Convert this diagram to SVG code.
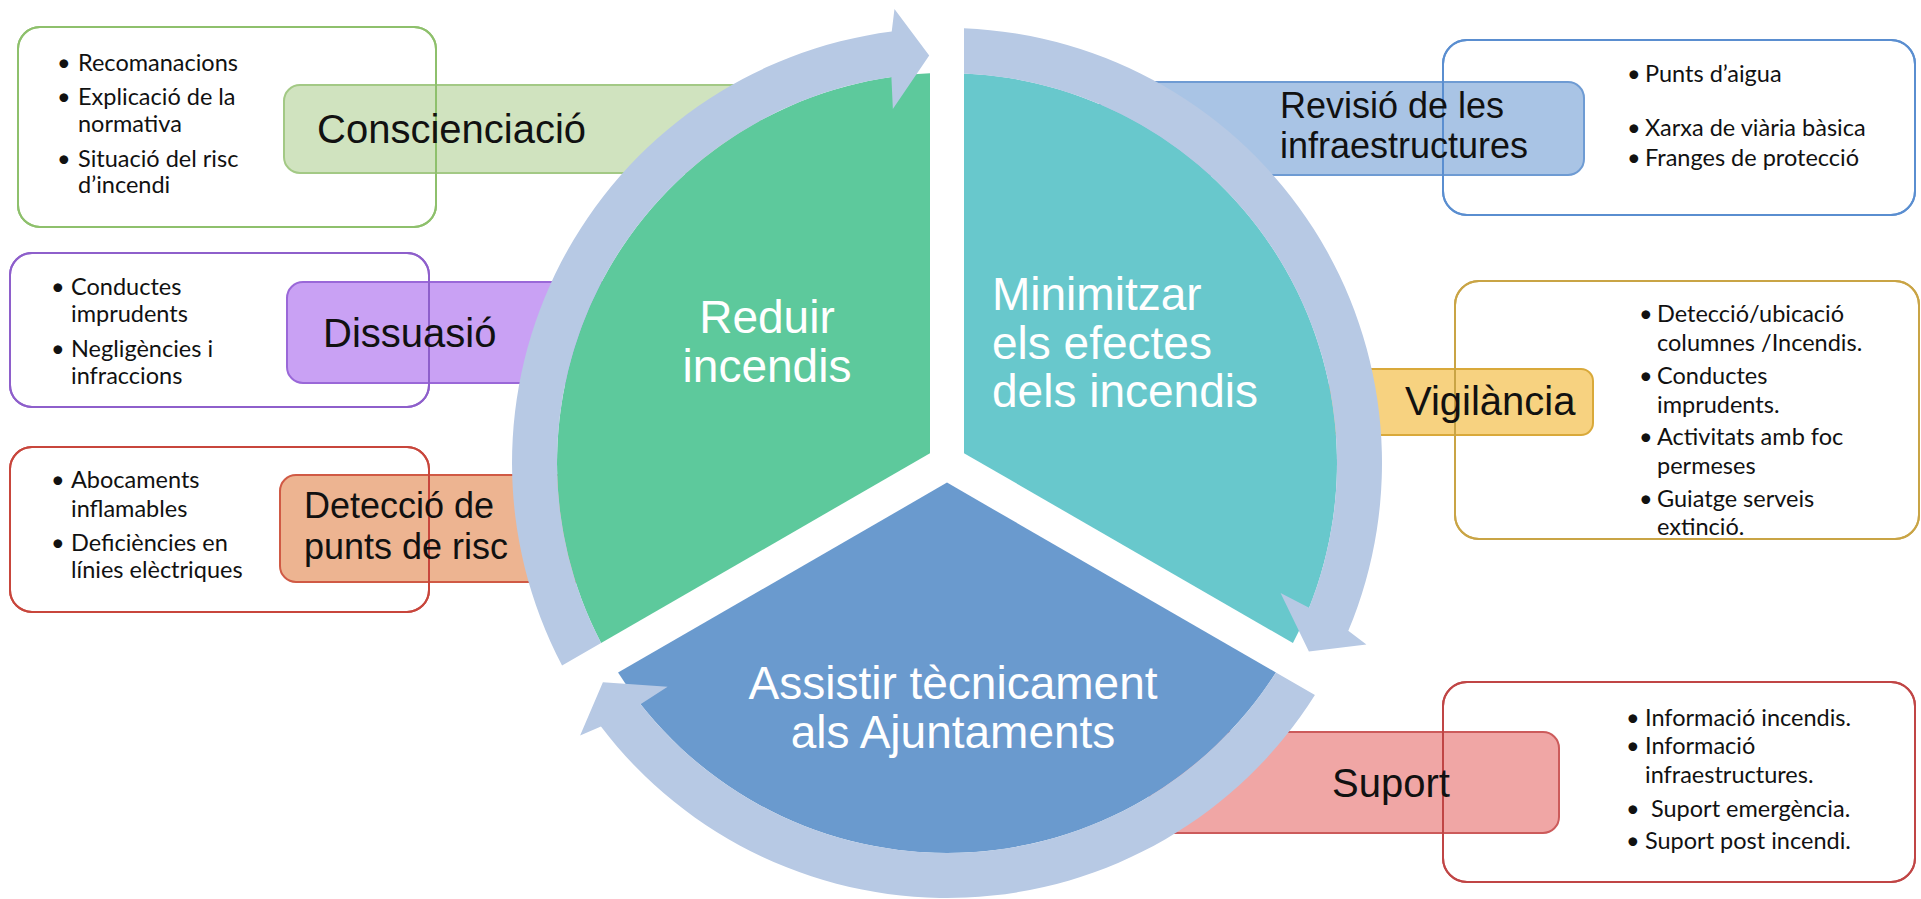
<svg xmlns="http://www.w3.org/2000/svg" width="1921" height="899" viewBox="0 0 1921 899">
<style>
.desc{fill:#fff;stroke-width:2}
.outl{fill:none;stroke-width:2}
.lab{stroke-width:2}
.lt{font-family:"Liberation Sans",Arial,sans-serif;fill:#111}
.bt{font-family:Lato,"Liberation Sans",sans-serif;font-size:23.5px;fill:#111}
.pt{font-family:"Liberation Sans",Arial,sans-serif;font-size:46px;fill:#fff}
.ring{fill:#B7C9E4}
</style>
<defs>
<path id="slice" d="M 930 453.2 L 930 73.37 A 390 390 0 0 0 601.08 643.09 Z"/>
<path id="arc" d="M 562.08 665.61 A 435 435 0 0 1 891.73 31.53 L 894.47 9.03 L 929.2 55.39 L 892.85 109.12 L 891.38 76.99 A 390 390 0 0 0 601.08 643.09 Z"/>
</defs>
<rect width="1921" height="899" fill="#fff"/>

<!-- description boxes (white fill) -->
<g id="desc-conscienciacio">
<rect class="desc" x="18" y="27" width="418" height="200" rx="22" stroke="#8EC06C"/>
</g>
<g id="desc-dissuasio">
<rect class="desc" x="10" y="253" width="419" height="154" rx="22" stroke="#8E5FCB"/>
</g>
<g id="desc-deteccio">
<rect class="desc" x="10" y="447" width="419" height="165" rx="22" stroke="#C8463C"/>
</g>
<g id="desc-revisio">
<rect class="desc" x="1443" y="40" width="472" height="175" rx="24" stroke="#5A8ED0"/>
</g>
<g id="desc-vigilancia">
<rect class="desc" x="1455" y="281" width="464" height="258" rx="24" stroke="#C9A445"/>
</g>
<g id="desc-suport">
<rect class="desc" x="1443" y="682" width="472" height="200" rx="24" stroke="#C04545"/>
</g>

<!-- labels -->
<g id="label-conscienciacio">
<rect class="lab" x="284" y="85" width="476" height="88" rx="16" fill="#D0E3BF" stroke="#A3C985"/>
</g>
<g id="label-dissuasio">
<rect class="lab" x="287" y="282" width="340" height="101" rx="16" fill="#C9A1F4" stroke="#9A68D8"/>
</g>
<g id="label-deteccio">
<rect class="lab" x="280" y="475" width="340" height="107" rx="16" fill="#EDB491" stroke="#D05A45"/>
</g>
<g id="label-revisio">
<rect class="lab" x="1100" y="82" width="484" height="93" rx="16" fill="#A9C4E5" stroke="#6E9BD3"/>
</g>
<g id="label-vigilancia">
<rect class="lab" x="1330" y="369" width="263" height="66" rx="12" fill="#F7D280" stroke="#D9A93A"/>
</g>
<g id="label-suport">
<rect class="lab" x="1150" y="732" width="409" height="101" rx="16" fill="#F0A6A5" stroke="#CC5B5B"/>
</g>

<!-- description box outlines on top of labels -->
<g id="desc-outlines">
<rect class="outl" x="18" y="27" width="418" height="200" rx="22" stroke="#8EC06C"/>
<rect class="outl" x="10" y="253" width="419" height="154" rx="22" stroke="#8E5FCB"/>
<rect class="outl" x="10" y="447" width="419" height="165" rx="22" stroke="#C8463C"/>
<rect class="outl" x="1443" y="40" width="472" height="175" rx="24" stroke="#5A8ED0"/>
<rect class="outl" x="1455" y="281" width="464" height="258" rx="24" stroke="#C9A445"/>
<rect class="outl" x="1443" y="682" width="472" height="200" rx="24" stroke="#C04545"/>
</g>

<!-- label texts -->
<g id="label-texts">
<text class="lt" x="317" y="143" font-size="40">Conscienciació</text>
<text class="lt" x="323" y="347" font-size="40">Dissuasió</text>
<text class="lt" x="304" y="518" font-size="36">Detecció de</text>
<text class="lt" x="304" y="559" font-size="36">punts de risc</text>
<text class="lt" x="1280" y="118" font-size="36">Revisió de les</text>
<text class="lt" x="1280" y="158" font-size="36">infraestructures</text>
<text class="lt" x="1405" y="415" font-size="40">Vigilància</text>
<text class="lt" x="1332" y="797" font-size="40">Suport</text>
</g>

<!-- bullet texts -->
<g id="bullets-conscienciacio" class="bt">
<text x="57" y="71">•</text><text x="78" y="71">Recomanacions</text>
<text x="57" y="105">•</text><text x="78" y="105">Explicació de la</text>
<text x="78" y="132">normativa</text>
<text x="57" y="167">•</text><text x="78" y="167">Situació del risc</text>
<text x="78" y="193">d’incendi</text>
</g>
<g id="bullets-dissuasio" class="bt">
<text x="51" y="295">•</text><text x="71" y="295">Conductes</text>
<text x="71" y="322">imprudents</text>
<text x="51" y="357">•</text><text x="71" y="357">Negligències i</text>
<text x="71" y="384">infraccions</text>
</g>
<g id="bullets-deteccio" class="bt">
<text x="51" y="488">•</text><text x="71" y="488">Abocaments</text>
<text x="71" y="517">inflamables</text>
<text x="51" y="551">•</text><text x="71" y="551">Deficiències en</text>
<text x="71" y="578">línies elèctriques</text>
</g>
<g id="bullets-revisio" class="bt">
<text x="1627" y="82">•</text><text x="1645" y="82">Punts d’aigua</text>
<text x="1627" y="136">•</text><text x="1645" y="136">Xarxa de viària bàsica</text>
<text x="1627" y="166">•</text><text x="1645" y="166">Franges de protecció</text>
</g>
<g id="bullets-vigilancia" class="bt">
<text x="1639" y="322">•</text><text x="1657" y="322">Detecció/ubicació</text>
<text x="1657" y="351">columnes /Incendis.</text>
<text x="1639" y="384">•</text><text x="1657" y="384">Conductes</text>
<text x="1657" y="413">imprudents.</text>
<text x="1639" y="445">•</text><text x="1657" y="445">Activitats amb foc</text>
<text x="1657" y="474">permeses</text>
<text x="1639" y="507">•</text><text x="1657" y="507">Guiatge serveis</text>
<text x="1657" y="535">extinció.</text>
</g>
<g id="bullets-suport" class="bt">
<text x="1626" y="726">•</text><text x="1645" y="726">Informació incendis.</text>
<text x="1626" y="754">•</text><text x="1645" y="754">Informació</text>
<text x="1645" y="783">infraestructures.</text>
<text x="1626" y="817">•</text><text x="1651" y="817">Suport emergència.</text>
<text x="1626" y="849">•</text><text x="1645" y="849">Suport post incendi.</text>
</g>

<!-- pie slices -->
<g id="node-reduir">
<use href="#slice" fill="#5DC99C"/>
<text class="pt" x="767" y="333" text-anchor="middle">Reduir</text>
<text class="pt" x="767" y="382" text-anchor="middle">incendis</text>
</g>
<g id="node-minimitzar">
<use href="#slice" fill="#68C8CC" transform="rotate(120 947 463)"/>
<text class="pt" x="992" y="310">Minimitzar</text>
<text class="pt" x="992" y="359">els efectes</text>
<text class="pt" x="992" y="407">dels incendis</text>
</g>
<g id="node-assistir">
<use href="#slice" fill="#6A9ACE" transform="rotate(240 947 463)"/>
<text class="pt" x="953" y="699" text-anchor="middle">Assistir tècnicament</text>
<text class="pt" x="953" y="748" text-anchor="middle">als Ajuntaments</text>
</g>

<!-- circular arrows -->
<g id="connectors">
<use href="#arc" class="ring"/>
<use href="#arc" class="ring" transform="rotate(120 947 463)"/>
<use href="#arc" class="ring" transform="rotate(240 947 463)"/>
</g>
</svg>
